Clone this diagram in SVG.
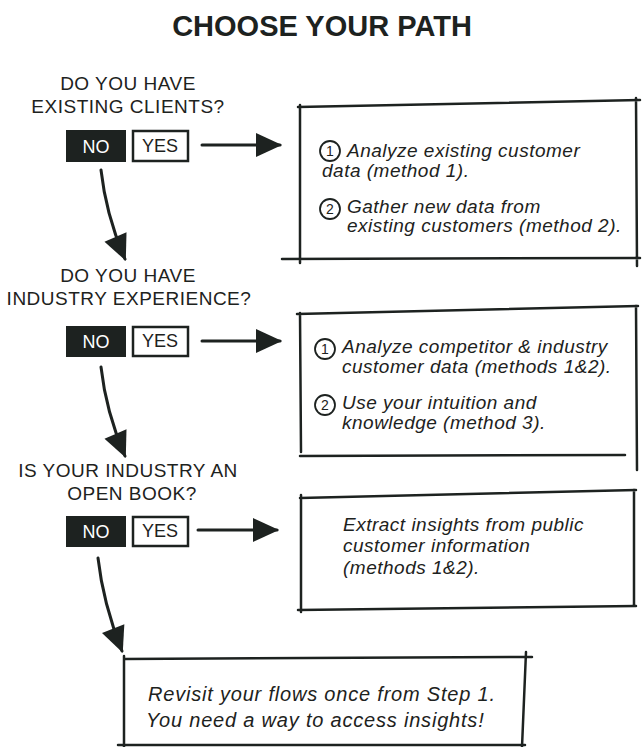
<svg xmlns="http://www.w3.org/2000/svg" width="643" height="747" viewBox="0 0 643 747">
  <defs>
    <style>
      .title { font-family: "Liberation Sans", Arial, sans-serif; font-weight: bold; font-size: 29px; fill: #1d2220; }
      .q { font-family: "Liberation Sans", Arial, sans-serif; font-size: 19px; letter-spacing: 0.5px; fill: #1d2220; }
      .hand { font-family: "Liberation Sans", Arial, sans-serif; font-style: italic; font-size: 19px; letter-spacing: 0.5px; fill: #1d2220; }
      .big { font-size: 20px; letter-spacing: 0.8px; }
      .btn { font-family: "Liberation Sans", Arial, sans-serif; font-size: 18px; text-anchor: middle; }
      .no-bg { fill: #1d2220; }
      .no-tx { fill: #ffffff; }
      .yes-bg { fill: #ffffff; stroke: #1d2220; stroke-width: 2.5; }
      .yes-tx { fill: #1d2220; }
      .frame { fill: none; stroke: #1d2220; stroke-width: 2.5; stroke-linecap: round; }
      .num { fill: none; stroke: #1d2220; stroke-width: 1.8; }
      .numtx { font-family: "Liberation Sans", Arial, sans-serif; font-size: 14px; fill: #1d2220; text-anchor: middle; }
      .conn { fill: none; stroke: #1d2220; stroke-width: 3; stroke-linecap: round; }
    </style>
    <marker id="head" markerUnits="userSpaceOnUse" markerWidth="30" markerHeight="30" viewBox="0 0 30 30" refX="26" refY="15" orient="auto">
      <path d="M2,3 L28,15 L2,27 Z" fill="#1d2220"/>
    </marker>
  </defs>

  <rect width="643" height="747" fill="#ffffff"/>

  <text class="title" x="322" y="36" text-anchor="middle">CHOOSE YOUR PATH</text>

  <!-- Question 1 -->
  <g id="q1">
    <text class="q" x="128" y="90" text-anchor="middle">DO YOU HAVE</text>
    <text class="q" x="128" y="113" text-anchor="middle">EXISTING CLIENTS?</text>
    <rect class="no-bg" x="66" y="130" width="60" height="32"/>
    <text class="btn no-tx" x="96" y="153">NO</text>
    <rect class="yes-bg" x="133" y="131" width="55" height="30"/>
    <text class="btn yes-tx" x="160" y="152">YES</text>
  </g>

  <!-- Answer box 1 -->
  <g id="box1">
    <path class="frame" d="M298,107 L640,100 M300,105 L300,263 M282,259 L640,258 M636,98 L637,266"/>
    <circle class="num" cx="330" cy="151" r="10"/>
    <text class="numtx" x="330" y="156">1</text>
    <text class="hand" x="347" y="157">Analyze existing customer</text>
    <text class="hand" x="322" y="177">data (method 1).</text>
    <circle class="num" cx="330" cy="209" r="10"/>
    <text class="numtx" x="330" y="214">2</text>
    <text class="hand" x="347" y="213">Gather new data from</text>
    <text class="hand" x="347" y="232">existing customers (method 2).</text>
  </g>

  <!-- Question 2 -->
  <g id="q2">
    <text class="q" x="128" y="282" text-anchor="middle">DO YOU HAVE</text>
    <text class="q" x="129" y="305" text-anchor="middle">INDUSTRY EXPERIENCE?</text>
    <rect class="no-bg" x="66" y="326" width="60" height="31"/>
    <text class="btn no-tx" x="96" y="348">NO</text>
    <rect class="yes-bg" x="133" y="327" width="55" height="29"/>
    <text class="btn yes-tx" x="160" y="347">YES</text>
  </g>

  <!-- Answer box 2 -->
  <g id="box2">
    <path class="frame" d="M297,314 L638,306 M300,313 L301,452 M300,456 L625,455 M636,306 L637,470"/>
    <circle class="num" cx="325" cy="349" r="10"/>
    <text class="numtx" x="325" y="354">1</text>
    <text class="hand" x="342" y="353">Analyze competitor &amp; industry</text>
    <text class="hand" x="342" y="373">customer data (methods 1&amp;2).</text>
    <circle class="num" cx="325" cy="405" r="10"/>
    <text class="numtx" x="325" y="410">2</text>
    <text class="hand" x="342" y="409">Use your intuition and</text>
    <text class="hand" x="342" y="429">knowledge (method 3).</text>
  </g>

  <!-- Question 3 -->
  <g id="q3">
    <text class="q" x="128" y="477" text-anchor="middle">IS YOUR INDUSTRY AN</text>
    <text class="q" x="132" y="500" text-anchor="middle">OPEN BOOK?</text>
    <rect class="no-bg" x="66" y="516" width="60" height="31"/>
    <text class="btn no-tx" x="96" y="538">NO</text>
    <rect class="yes-bg" x="133" y="517" width="55" height="29"/>
    <text class="btn yes-tx" x="160" y="537">YES</text>
  </g>

  <!-- Answer box 3 -->
  <g id="box3">
    <path class="frame" d="M300,498 L636,490 M301,495 L301,612 M298,610 L636,606 M634,490 L634,606"/>
    <text class="hand" x="343" y="531">Extract insights from public</text>
    <text class="hand" x="343" y="552">customer information</text>
    <text class="hand" x="343" y="574">(methods 1&amp;2).</text>
  </g>

  <!-- Final box -->
  <g id="final">
    <path class="frame" d="M124,659 L532,657 M124,656 L124,747 M118,745 L525,745 M526,652 L522,747"/>
    <text class="hand big" x="148" y="701">Revisit your flows once from Step 1.</text>
    <text class="hand big" x="146" y="727">You need a way to access insights!</text>
  </g>

  <!-- Connectors -->
  <g id="connectors">
    <path class="conn" d="M202,145 L280,145" marker-end="url(#head)"/>
    <path class="conn" d="M202,341 L280,341" marker-end="url(#head)"/>
    <path class="conn" d="M198,530 L277,530" marker-end="url(#head)"/>
    <path class="conn" d="M101,170 Q106,215 125,259" marker-end="url(#head)"/>
    <path class="conn" d="M101,367 Q106,412 125,456" marker-end="url(#head)"/>
    <path class="conn" d="M98,558 Q103,603 122,651" marker-end="url(#head)"/>
  </g>
</svg>
